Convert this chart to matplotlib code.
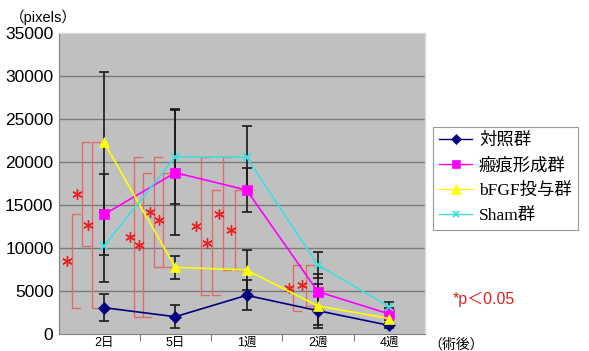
import matplotlib
matplotlib.use("Agg")
import matplotlib.pyplot as plt
from matplotlib.lines import Line2D

# ---- data ----
timepoints = ["2日", "5日", "1週", "2週", "4週"]
groups = ["対照群", "瘢痕形成群", "bFGF投与群", "Sham群"]

control = [3060, 2010, 4500, 2710, 1000]
control_err = [1580, 1350, 1750, 1710, 300]
scar = [13900, 18760, 16740, 4920, 2330]
scar_err = [4750, 7300, 2600, 2060, 700]
bfgf = [22290, 7750, 7440, 3260, 1800]
bfgf_err = [8140, 1350, 2330, 2600, 600]
sham = [10230, 20620, 20550, 8020, 3180]
sham_err = [4150, 5500, 3670, 1550, 580]

yticks = [0, 5000, 10000, 15000, 20000, 25000, 30000, 35000]

# significant comparisons: (timepoint index, upper group, lower group)
comparisons = [
    (0, 1, 0), (0, 2, 3), (0, 2, 0),
    (1, 3, 0), (1, 1, 0), (1, 3, 2), (1, 1, 2),
    (2, 3, 0), (2, 1, 0), (2, 3, 2), (2, 1, 2),
    (3, 3, 0), (3, 3, 2),
]

# ---- style ----
series = [control, scar, bfgf, sham]
errors = [control_err, scar_err, bfgf_err, sham_err]
colors = ["#000080", "#ff00ff", "#ffff00", "#40dede"]
markers = ["D", "s", "^", "x"]
msizes = [6, 7, 7.5, 6]
bracket_dx = [-0.453, -0.313, -0.164,
              -0.579, -0.449, -0.295, -0.168,
              -0.644, -0.489, -0.327, -0.163,
              -0.345, -0.167]

latin_cjk = ["Liberation Serif", "Noto Sans CJK JP"]
sans_cjk = ["Liberation Sans", "Noto Sans CJK JP"]

fig = plt.figure(figsize=(5.89, 3.51), dpi=100)
ax = fig.add_axes([59 / 589, 1 - 334 / 351, 366 / 589, 301 / 351])
ax.set_facecolor("#c0c0c0")

x = list(range(len(timepoints)))

for yt in yticks[1:-1]:
    ax.axhline(yt, color="#7a7a7a", lw=1.0, zorder=1)

# error bars
for vals, errs in zip(series, errors):
    ax.errorbar(x, vals, yerr=errs, fmt="none", ecolor="#1a1a1a",
                elinewidth=1.2, capsize=3.6, capthick=1.2, zorder=3)

# significance brackets
hook = 0.11
bracket_color = "#e46a6a"
for (t, hi, lo), dx in zip(comparisons, bracket_dx):
    xb = t + dx
    ytop = series[hi][t]
    ybot = series[lo][t]
    ax.plot([xb + hook, xb, xb, xb + hook], [ytop, ytop, ybot, ybot],
            color=bracket_color, lw=1.0, zorder=2)
    ax.plot(xb - 0.06, (ytop + ybot) / 2, marker=(6, 2, 0), ms=7.5,
            mew=1.0, color="#e82020", linestyle="none", zorder=4)

# series lines
handles = []
for vals, c, m, ms in zip(series, colors, markers, msizes):
    mew = 1.3 if m == "x" else 0.5
    ax.plot(x, vals, color=c, lw=1.2, marker=m, ms=ms, mfc=c, mec=c,
            mew=mew, zorder=5)
    handles.append(Line2D([], [], color=c, lw=1.0, marker=m, ms=ms - 1,
                          mfc=c, mec=c, mew=mew))

ax.set_xlim(-0.631, 4.502)
ax.set_ylim(0, 35000)
ax.set_yticks(yticks)
ax.set_yticklabels([str(v) for v in yticks], fontsize=12.5,
                   family="Liberation Sans")
ax.tick_params(axis="y", length=0, pad=4)

ax.set_xticks([0.5, 1.5, 2.5, 3.5], minor=False)
ax.set_xticklabels([])
ax.tick_params(axis="x", which="major", length=5, color="#808080",
               direction="out")
ax.set_xticks(x, minor=True)
ax.set_xticklabels(timepoints, minor=True, fontsize=9, family=sans_cjk)
ax.tick_params(axis="x", which="minor", length=0, pad=2)

for side in ["top", "right"]:
    ax.spines[side].set_color("#d8d8d8")
    ax.spines[side].set_linewidth(1.0)
ax.spines["left"].set_color("#808080")
ax.spines["bottom"].set_color("#808080")

fig.text(10 / 589, 1 - 17 / 351, "（pixels）", fontsize=10.5,
         family=sans_cjk, va="center", ha="left")
fig.text(428 / 589, 1 - 345 / 351, "（術後）", fontsize=10,
         family=sans_cjk, va="center", ha="left")
fig.text(453 / 589, 1 - 299 / 351, "*p＜0.05", fontsize=11.5,
         family=sans_cjk, color="#e02020", va="center", ha="left")

leg = fig.legend(handles, groups, loc="upper left",
                 bbox_to_anchor=(433 / 589, 1 - 126.5 / 351),
                 prop={"family": latin_cjk, "size": 12.5},
                 frameon=True, fancybox=False, edgecolor="#808080",
                 handlelength=1.9, handletextpad=0.4, labelspacing=0.5,
                 borderpad=0.35, borderaxespad=0)
leg.get_frame().set_linewidth(0.8)

fig.savefig("out.png", dpi=100)
